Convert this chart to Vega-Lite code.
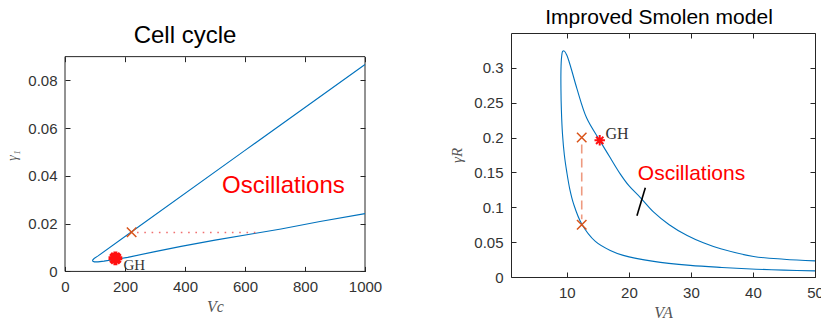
{
  "$schema": "https://vega.github.io/schema/vega-lite/v6.json",
  "padding": {"left": 5, "top": 6, "right": 0, "bottom": 0},
  "background": "white",
  "spacing": 67,
  "config": {
    "view": {"stroke": "#262626", "strokeWidth": 1},
    "font": "Liberation Sans",
    "axis": {
      "grid": false, "domain": false, "tickColor": "#262626", "tickSize": -5, "labelPadding": 13,
      "labelFontSize": 15, "labelColor": "#333333", "labelFont": "Liberation Sans",
      "titleFont": "Liberation Serif", "titleFontStyle": "italic", "titleFontWeight": "normal",
      "titleColor": "#555555", "labelFlush": false, "labelOverlap": false
    }
  },
  "datasets": {
    "cellFrame": [{"x0": 0, "x1": 1000, "y0": 0, "y1": 0.09}],
    "cellCurve": [
      {"i": 1, "x": 1000, "y": 0.0867}, {"i": 2, "x": 600, "y": 0.0507}, {"i": 3, "x": 222, "y": 0.0166},
      {"i": 4, "x": 109, "y": 0.0064}, {"i": 5, "x": 97, "y": 0.0054}, {"i": 6, "x": 92, "y": 0.0047},
      {"i": 7, "x": 93, "y": 0.0042}, {"i": 8, "x": 98, "y": 0.0040}, {"i": 9, "x": 110, "y": 0.0040},
      {"i": 10, "x": 130, "y": 0.0043}, {"i": 11, "x": 170, "y": 0.0051}, {"i": 12, "x": 209, "y": 0.0059},
      {"i": 13, "x": 300, "y": 0.0083}, {"i": 14, "x": 387, "y": 0.0105}, {"i": 15, "x": 500, "y": 0.0131},
      {"i": 16, "x": 631, "y": 0.0159}, {"i": 17, "x": 720, "y": 0.0178}, {"i": 18, "x": 850, "y": 0.0209},
      {"i": 19, "x": 1000, "y": 0.0242}
    ],
    "cellDotted": [{"x": 240, "y": 0.0163}, {"x": 640, "y": 0.0163}],
    "cellCross": [{"x": 222, "y": 0.0164}],
    "cellStar": [{"x": 168, "y": 0.0055}],
    "cellText": [{"x": 231, "y": 0.0027, "label": "GH"}],
    "cellOsc": [{"x": 728, "y": 0.0358, "label": "Oscillations"}],
    "smolCurve": [
      {"i": 1, "x": 50, "y": 0.0088}, {"i": 2, "x": 45, "y": 0.0098}, {"i": 3, "x": 40.5, "y": 0.0112},
      {"i": 4, "x": 35, "y": 0.0137}, {"i": 5, "x": 29.9, "y": 0.0167}, {"i": 6, "x": 24, "y": 0.0224},
      {"i": 7, "x": 19.1, "y": 0.031}, {"i": 8, "x": 17, "y": 0.038}, {"i": 9, "x": 14.6, "y": 0.051},
      {"i": 10, "x": 12.4, "y": 0.076}, {"i": 11, "x": 11.1, "y": 0.1045}, {"i": 12, "x": 10.5, "y": 0.125},
      {"i": 13, "x": 10.0, "y": 0.15}, {"i": 14, "x": 9.6, "y": 0.175}, {"i": 15, "x": 9.3, "y": 0.205},
      {"i": 16, "x": 9.12, "y": 0.24}, {"i": 17, "x": 9.05, "y": 0.27}, {"i": 18, "x": 9.05, "y": 0.295},
      {"i": 19, "x": 9.15, "y": 0.315}, {"i": 20, "x": 9.35, "y": 0.324}, {"i": 21, "x": 9.6, "y": 0.324},
      {"i": 22, "x": 10.0, "y": 0.318}, {"i": 23, "x": 10.6, "y": 0.302}, {"i": 24, "x": 11.6, "y": 0.271},
      {"i": 25, "x": 13.2, "y": 0.228}, {"i": 26, "x": 15.3, "y": 0.196}, {"i": 27, "x": 17, "y": 0.171},
      {"i": 28, "x": 18.6, "y": 0.148}, {"i": 29, "x": 20, "y": 0.131}, {"i": 30, "x": 21.85, "y": 0.114},
      {"i": 31, "x": 24, "y": 0.093}, {"i": 32, "x": 26.5, "y": 0.075}, {"i": 33, "x": 29.4, "y": 0.0594},
      {"i": 34, "x": 32, "y": 0.049}, {"i": 35, "x": 34.8, "y": 0.0404}, {"i": 36, "x": 40.1, "y": 0.0295},
      {"i": 37, "x": 45, "y": 0.0255}, {"i": 38, "x": 50, "y": 0.0232}
    ],
    "smolDashed": [{"x": 12.4, "y": 0.19}, {"x": 12.4, "y": 0.083}],
    "smolCross": [{"x": 12.4, "y": 0.2}, {"x": 12.4, "y": 0.075}],
    "smolStar": [{"x": 15.3, "y": 0.196}],
    "smolGH": [{"x": 18.1, "y": 0.205, "label": "GH"}],
    "smolOsc": [{"x": 30.1, "y": 0.148, "label": "Oscillations"}],
    "smolPointer": [{"x": 22.65, "y": 0.128}, {"x": 21.3, "y": 0.088}]
  },
  "hconcat": [
    {
      "width": 300,
      "height": 244,
      "view": {"stroke": null},
      "title": {"text": "Cell cycle", "fontSize": 24, "font": "Liberation Sans", "fontWeight": "normal", "color": "black", "anchor": "middle", "frame": "group", "dx": -30, "offset": -14.7},
      "resolve": {"axis": {"x": "independent", "y": "independent"}},
      "layer": [
        {
          "data": {"name": "cellFrame"},
          "mark": {"type": "rect", "fill": null, "fillOpacity": 0, "stroke": "#262626", "strokeWidth": 1},
          "encoding": {
            "x": {"field": "x0", "type": "quantitative", "scale": {"domain": [0, 1000], "nice": false},
                  "axis": {"values": [0, 200, 400, 600, 800, 1000], "format": "d", "title": "Vc", "titleFontSize": 16, "titlePadding": 4, "offset": -5.6}},
            "x2": {"field": "x1"},
            "y": {"field": "y0", "type": "quantitative", "scale": {"domain": [-0.00234, 0.0999], "nice": false, "zero": false},
                  "axis": {"values": [0, 0.02, 0.04, 0.06, 0.08], "format": "~g", "title": "γ₁", "titleFontSize": 14, "titlePadding": 8}},
            "y2": {"field": "y1"}
          }
        },
        {
          "data": {"name": "cellCurve"},
          "mark": {"type": "line", "color": "#0072BD", "strokeWidth": 1.1},
          "encoding": {
            "x": {"field": "x", "type": "quantitative", "scale": {"domain": [0, 1000], "nice": false},
                  "axis": {"orient": "top", "values": [0, 200, 400, 600, 800, 1000], "labels": false, "title": null, "offset": -23.7}},
            "y": {"field": "y", "type": "quantitative", "scale": {"domain": [-0.00234, 0.0999], "nice": false, "zero": false},
                  "axis": {"orient": "right", "values": [0, 0.02, 0.04, 0.06, 0.08], "labels": false, "title": null}},
            "order": {"field": "i", "type": "quantitative"}
          }
        },
        {
          "data": {"name": "cellDotted"},
          "mark": {"type": "line", "color": "#F07070", "strokeWidth": 1.6, "strokeDash": [1.6, 5.7]},
          "encoding": {
            "x": {"field": "x", "type": "quantitative", "scale": {"domain": [0, 1000], "nice": false}, "axis": null},
            "y": {"field": "y", "type": "quantitative", "scale": {"domain": [-0.00234, 0.0999], "nice": false, "zero": false}, "axis": null}
          }
        },
        {
          "data": {"name": "cellStar"},
          "mark": {"type": "point", "shape": "M-1,0L1,0M0,-1L0,1M-0.7,-0.7L0.7,0.7M-0.7,0.7L0.7,-0.7", "filled": false, "stroke": "#FF1010", "strokeWidth": 4, "size": 190, "opacity": 1},
          "encoding": {
            "x": {"field": "x", "type": "quantitative", "scale": {"domain": [0, 1000], "nice": false}, "axis": null},
            "y": {"field": "y", "type": "quantitative", "scale": {"domain": [-0.00234, 0.0999], "nice": false, "zero": false}, "axis": null}
          }
        },
        {
          "data": {"name": "cellCross"},
          "mark": {"type": "point", "shape": "M-1,-1L1,1M-1,1L1,-1", "filled": false, "stroke": "#D95319", "strokeWidth": 1.5, "size": 90, "opacity": 1},
          "encoding": {
            "x": {"field": "x", "type": "quantitative", "scale": {"domain": [0, 1000], "nice": false}, "axis": null},
            "y": {"field": "y", "type": "quantitative", "scale": {"domain": [-0.00234, 0.0999], "nice": false, "zero": false}, "axis": null}
          }
        },
        {
          "data": {"name": "cellText"},
          "mark": {"type": "text", "font": "Liberation Serif", "fontSize": 15, "color": "#333333", "align": "center", "baseline": "middle"},
          "encoding": {
            "x": {"field": "x", "type": "quantitative", "scale": {"domain": [0, 1000], "nice": false}, "axis": null},
            "y": {"field": "y", "type": "quantitative", "scale": {"domain": [-0.00234, 0.0999], "nice": false, "zero": false}, "axis": null},
            "text": {"field": "label"}
          }
        },
        {
          "data": {"name": "cellOsc"},
          "mark": {"type": "text", "font": "Liberation Sans", "fontSize": 24, "color": "#FF0000", "align": "center", "baseline": "middle"},
          "encoding": {
            "x": {"field": "x", "type": "quantitative", "scale": {"domain": [0, 1000], "nice": false}, "axis": null},
            "y": {"field": "y", "type": "quantitative", "scale": {"domain": [-0.00234, 0.0999], "nice": false, "zero": false}, "axis": null},
            "text": {"field": "label"}
          }
        }
      ]
    },
    {
      "width": 304,
      "height": 244,
      "title": {"text": "Improved Smolen model", "fontSize": 21, "font": "Liberation Sans", "fontWeight": "normal", "color": "black", "anchor": "middle", "frame": "group", "dx": -4, "offset": 5},
      "resolve": {"axis": {"x": "independent", "y": "independent"}},
      "layer": [
        {
          "data": {"name": "smolCurve"},
          "mark": {"type": "line", "color": "#0072BD", "strokeWidth": 1.1, "interpolate": "catmull-rom"},
          "encoding": {
            "x": {"field": "x", "type": "quantitative", "scale": {"domain": [1, 50], "nice": false},
                  "axis": {"values": [10, 20, 30, 40, 50], "format": "d", "title": "VA", "titleFontSize": 16, "titlePadding": 4}},
            "y": {"field": "y", "type": "quantitative", "scale": {"domain": [0, 0.35], "nice": false},
                  "axis": {"values": [0, 0.05, 0.1, 0.15, 0.2, 0.25, 0.3], "format": "~g", "title": "γR", "titleFontSize": 15, "titlePadding": 9}},
            "order": {"field": "i", "type": "quantitative"}
          }
        },
        {
          "data": {"name": "smolDashed"},
          "mark": {"type": "line", "color": "#EE9A80", "strokeWidth": 1.6, "strokeDash": [9, 5]},
          "encoding": {
            "x": {"field": "x", "type": "quantitative", "scale": {"domain": [1, 50], "nice": false},
                  "axis": {"orient": "top", "values": [10, 20, 30, 40, 50], "labels": false, "title": null}},
            "y": {"field": "y", "type": "quantitative", "scale": {"domain": [0, 0.35], "nice": false},
                  "axis": {"orient": "right", "values": [0, 0.05, 0.1, 0.15, 0.2, 0.25, 0.3], "labels": false, "title": null}}
          }
        },
        {
          "data": {"name": "smolCross"},
          "mark": {"type": "point", "shape": "M-1,-1L1,1M-1,1L1,-1", "filled": false, "stroke": "#D95319", "strokeWidth": 1.5, "size": 90, "opacity": 1},
          "encoding": {
            "x": {"field": "x", "type": "quantitative", "scale": {"domain": [1, 50], "nice": false}, "axis": null},
            "y": {"field": "y", "type": "quantitative", "scale": {"domain": [0, 0.35], "nice": false}, "axis": null}
          }
        },
        {
          "data": {"name": "smolStar"},
          "mark": {"type": "point", "shape": "M-1,0L1,0M0,-1L0,1M-0.7,-0.7L0.7,0.7M-0.7,0.7L0.7,-0.7", "filled": false, "stroke": "#FF1010", "strokeWidth": 2, "size": 110, "opacity": 1},
          "encoding": {
            "x": {"field": "x", "type": "quantitative", "scale": {"domain": [1, 50], "nice": false}, "axis": null},
            "y": {"field": "y", "type": "quantitative", "scale": {"domain": [0, 0.35], "nice": false}, "axis": null}
          }
        },
        {
          "data": {"name": "smolPointer"},
          "mark": {"type": "line", "color": "black", "strokeWidth": 1.6},
          "encoding": {
            "x": {"field": "x", "type": "quantitative", "scale": {"domain": [1, 50], "nice": false}, "axis": null},
            "y": {"field": "y", "type": "quantitative", "scale": {"domain": [0, 0.35], "nice": false}, "axis": null}
          }
        },
        {
          "data": {"name": "smolGH"},
          "mark": {"type": "text", "font": "Liberation Serif", "fontSize": 16, "color": "#333333", "align": "center", "baseline": "middle"},
          "encoding": {
            "x": {"field": "x", "type": "quantitative", "scale": {"domain": [1, 50], "nice": false}, "axis": null},
            "y": {"field": "y", "type": "quantitative", "scale": {"domain": [0, 0.35], "nice": false}, "axis": null},
            "text": {"field": "label"}
          }
        },
        {
          "data": {"name": "smolOsc"},
          "mark": {"type": "text", "font": "Liberation Sans", "fontSize": 21, "color": "#FF0000", "align": "center", "baseline": "middle"},
          "encoding": {
            "x": {"field": "x", "type": "quantitative", "scale": {"domain": [1, 50], "nice": false}, "axis": null},
            "y": {"field": "y", "type": "quantitative", "scale": {"domain": [0, 0.35], "nice": false}, "axis": null},
            "text": {"field": "label"}
          }
        }
      ]
    }
  ]
}
